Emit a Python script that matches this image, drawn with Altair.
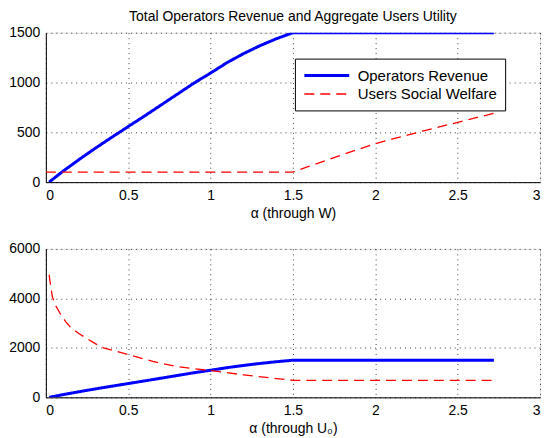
import altair as alt
import pandas as pd

FONT = "Liberation Sans"

SERIES = ["Operators Revenue", "Users Social Welfare"]

# Top panel (alpha through W)
rev_alpha = [0.02, 0.1, 0.2, 0.3, 0.4, 0.5, 0.6, 0.7, 0.8, 0.9, 1.0, 1.1, 1.2, 1.3, 1.4, 1.5, 2.0, 2.5, 2.72]
rev_value = [0, 105, 225, 340, 450, 558, 665, 775, 885, 995, 1095, 1200, 1290, 1370, 1440, 1500, 1500, 1500, 1500]

usw_top_alpha = [0.0, 0.5, 1.0, 1.5, 1.6, 1.7, 1.8, 1.9, 2.0, 2.1, 2.2, 2.3, 2.4, 2.5, 2.6, 2.72]
usw_top_value = [100, 100, 100, 100, 160, 218, 275, 331, 385, 431, 475, 518, 560, 600, 642, 690]

# Bottom panel (alpha through U0)
usw_bot_alpha = [0.02, 0.03, 0.04, 0.06, 0.09, 0.12, 0.15, 0.2, 0.25, 0.3, 0.35, 0.5, 0.65, 0.8, 1.0, 1.2, 1.4, 1.5, 2.0, 2.5, 2.72]
usw_bot_value = [4950, 4450, 4050, 3700, 3350, 3060, 2830, 2580, 2370, 2170, 2000, 1730, 1450, 1240, 1080, 910, 760, 690, 690, 690, 690]

x_ticks = [0, 0.5, 1, 1.5, 2, 2.5, 3]
y_ticks_top = [0, 500, 1000, 1500]
y_ticks_bot = [0, 2000, 4000, 6000]


def frame(pairs):
    rows = []
    for name, xs, ys in pairs:
        for i, (a, v) in enumerate(zip(xs, ys)):
            rows.append({"alpha": a, "value": v, "series": name, "order": i})
    return pd.DataFrame(rows)


top_df = frame([(SERIES[0], rev_alpha, rev_value), (SERIES[1], usw_top_alpha, usw_top_value)])
bot_df = frame([(SERIES[0], rev_alpha, rev_value), (SERIES[1], usw_bot_alpha, usw_bot_value)])

axis_common = dict(
    grid=True,
    gridColor="#000000",
    gridDash=[1, 4],
    gridOpacity=0.75,
    gridWidth=1,
    domainColor="#000000",
    domainWidth=1,
    ticks=False,
    labelFont=FONT,
    labelFontSize=14,
    labelColor="#000000",
    titleFont=FONT,
    titleFontSize=14,
    titleFontWeight="normal",
    titleColor="#000000",
)


def panel(df, ymax, yticks, xtitle, legend):
    color_legend = None
    if legend:
        color_legend = alt.Legend(
            title=None,
            orient="none",
            legendX=250,
            legendY=26,
            fillColor="white",
            strokeColor="black",
            padding=8,
            labelFont=FONT,
            labelFontSize=15,
            labelColor="#000000",
            labelOffset=37,
            symbolType="M-1,0H5",
            symbolSize=225,
            rowPadding=2,
            cornerRadius=0,
        )
    return (
        alt.Chart(df)
        .mark_line(clip=True)
        .encode(
            x=alt.X(
                "alpha:Q",
                scale=alt.Scale(domain=[0, 3], nice=False, zero=False),
                axis=alt.Axis(values=x_ticks, format="~g", title=xtitle,
                              labelPadding=6, titlePadding=4, **axis_common),
            ),
            y=alt.Y(
                "value:Q",
                scale=alt.Scale(domain=[0, ymax], nice=False),
                axis=alt.Axis(values=yticks, format="d", title=None,
                              labelPadding=6, **axis_common),
            ),
            color=alt.Color("series:N", scale=alt.Scale(domain=SERIES, range=["#0000ff", "#ff0000"]),
                            legend=color_legend),
            strokeDash=alt.StrokeDash("series:N", scale=alt.Scale(domain=SERIES, range=[[1, 0], [10, 6]]),
                                      legend=color_legend),
            strokeWidth=alt.StrokeWidth("series:N", scale=alt.Scale(domain=SERIES, range=[3, 1.3]),
                                        legend=color_legend),
            order="order:Q",
        )
    )


top = panel(top_df, 1500, y_ticks_top, "α (through W)", True).properties(
    width=496,
    height=150,
    title=alt.TitleParams(
        "Total Operators Revenue and Aggregate Users Utility",
        font=FONT,
        fontSize=14,
        fontWeight="normal",
        color="#000000",
        anchor="middle",
        offset=2,
    ),
)
bottom = panel(bot_df, 6000, y_ticks_bot, "α (through U₀)", False).properties(width=496, height=149)

chart = (
    alt.vconcat(top, bottom, spacing=67, bounds="flush")
    .resolve_legend(color="independent", strokeDash="independent", strokeWidth="independent")
    .configure_view(stroke="#000000", strokeWidth=1)
    .configure(padding={"left": 0, "top": 0, "right": 0, "bottom": 0}, background="white")
)

chart.save("out.html", embed_options={"renderer": "svg", "actions": False})
